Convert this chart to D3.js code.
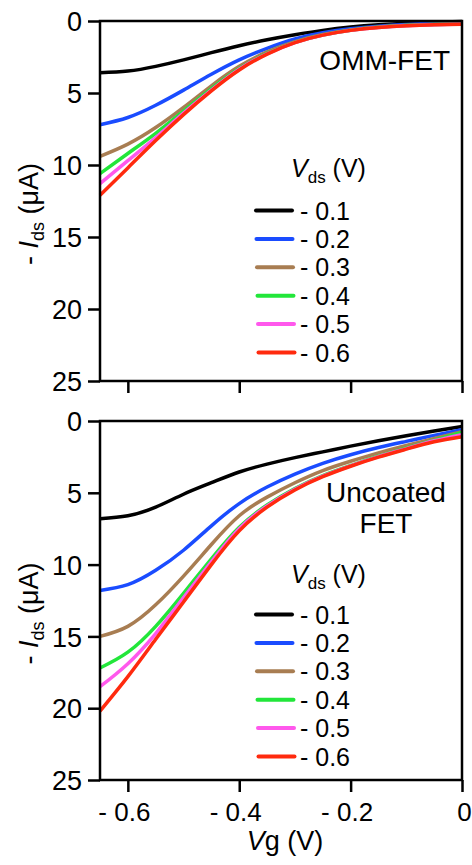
<!DOCTYPE html>
<head>
<meta charset="utf-8">
<style>
body { margin: 0; background: #fff; }
text { font-family: "Liberation Sans", Arial, sans-serif; fill: #000; }
.curve { fill: none; stroke-width: 3.5px; stroke-linejoin: round; }
.frame { fill: none; stroke: #000; stroke-width: 2.5px; }
.tick line { stroke: #000; stroke-width: 2.5px; }
</style>
</head>
<body>
<script src="https://cdn.jsdelivr.net/npm/d3@7"></script>
<script>
// gate voltage (V)
var vg = [-0.65, -0.6, -0.55, -0.5, -0.45, -0.4, -0.35, -0.3, -0.25, -0.2, -0.15, -0.1, -0.05, 0];

// drain voltages and colours
var vdsLabels = ["- 0.1", "- 0.2", "- 0.3", "- 0.4", "- 0.5", "- 0.6"];
var colors = ["#000000", "#1a4cff", "#a87d52", "#22e63a", "#ff58ec", "#ff2a0e"];

// -Ids (uA), OMM-FET
var omm01 = [3.6, 3.48, 3.15, 2.7, 2.2, 1.72, 1.3, 0.95, 0.65, 0.42, 0.26, 0.15, 0.08, 0.04];
var omm02 = [7.2, 6.7, 5.85, 4.8, 3.7, 2.7, 1.9, 1.25, 0.82, 0.54, 0.36, 0.24, 0.16, 0.12];
var omm03 = [9.4, 8.55, 7.4, 6.0, 4.5, 3.15, 2.15, 1.43, 0.94, 0.62, 0.42, 0.3, 0.22, 0.18];
var omm04 = [10.6, 9.2, 7.8, 6.25, 4.7, 3.3, 2.25, 1.48, 0.97, 0.64, 0.44, 0.32, 0.25, 0.2];
var omm05 = [11.3, 9.7, 8.1, 6.4, 4.8, 3.35, 2.28, 1.5, 0.98, 0.65, 0.45, 0.33, 0.26, 0.21];
var omm06 = [12.1, 10.2, 8.3, 6.5, 4.85, 3.4, 2.3, 1.5, 0.98, 0.65, 0.45, 0.33, 0.26, 0.22];

// -Ids (uA), uncoated FET
var unc01 = [6.8, 6.6, 6.0, 5.1, 4.3, 3.55, 3.0, 2.55, 2.15, 1.75, 1.38, 1.03, 0.7, 0.38];
var unc02 = [11.8, 11.4, 10.4, 9.0, 7.3, 5.75, 4.6, 3.7, 2.95, 2.35, 1.85, 1.42, 1.0, 0.6];
var unc03 = [15.0, 14.3, 12.8, 10.8, 8.6, 6.6, 5.3, 4.3, 3.45, 2.8, 2.22, 1.7, 1.22, 0.74];
var unc04 = [17.2, 16.1, 14.3, 12.0, 9.6, 7.4, 5.85, 4.7, 3.8, 3.1, 2.45, 1.88, 1.33, 0.8];
var unc05 = [18.5, 16.9, 14.8, 12.3, 9.8, 7.5, 5.92, 4.75, 3.84, 3.12, 2.48, 1.92, 1.38, 0.95];
var unc06 = [20.2, 17.8, 15.2, 12.6, 10.0, 7.65, 6.0, 4.8, 3.88, 3.15, 2.52, 1.96, 1.45, 1.1];

var yTicks = [0, 5, 10, 15, 20, 25];
var xTicks = [-0.6, -0.4, -0.2, 0];

var svg = d3.select("body").append("svg")
  .attr("width", 472)
  .attr("height", 865);

var x = d3.scaleLinear().domain([-0.65, 0]).range([100, 462]);

var panels = [
  { top: 21, bottom: 381, series: [omm01, omm02, omm03, omm04, omm05, omm06],
    title: ["OMM-FET"], titleX: 450, titleY: 70, anchor: "end", labels: false,
    legTitle: 177, legRow: 210.5 },
  { top: 421, bottom: 780, series: [unc01, unc02, unc03, unc04, unc05, unc06],
    title: ["Uncoated", "FET"], titleX: 386, titleY: 502, anchor: "middle", labels: true,
    legTitle: 583, legRow: 614.5 }
];

panels.forEach(function(p) {
  var y = d3.scaleLinear().domain([0, 25]).range([p.top, p.bottom]);
  var g = svg.append("g");

  var line = d3.line()
    .x(function(d, i) { return x(vg[i]); })
    .y(function(d) { return y(d); })
    .curve(d3.curveNatural);

  g.selectAll(".curve")
    .data(p.series)
    .enter().append("path")
    .attr("class", "curve")
    .attr("stroke", function(d, i) { return colors[i]; })
    .attr("d", line);

  // y axis
  var ya = g.append("g")
    .attr("transform", "translate(100,0)")
    .call(d3.axisLeft(y).tickValues(yTicks).tickSize(12).tickPadding(6));
  ya.select(".domain").remove();
  ya.selectAll("text").style("font-size", "27px").attr("dy", "0.36em");

  // x axis
  var xa = g.append("g")
    .attr("transform", "translate(0," + p.bottom + ")")
    .call(d3.axisBottom(x).tickValues(xTicks).tickSize(12).tickPadding(6)
      .tickFormat(function(d) {
        if (!p.labels) return "";
        return d === 0 ? "0" : "- " + Math.abs(d).toFixed(1);
      }));
  xa.select(".domain").remove();
  xa.selectAll("text").style("font-size", "26px").attr("dy", "0.9em")
    .attr("dx", function(d) { return d === 0 ? 2 : -4; });

  g.append("rect").attr("class", "frame")
    .attr("x", 100).attr("y", p.top)
    .attr("width", 362).attr("height", p.bottom - p.top);

  // panel title
  p.title.forEach(function(t, i) {
    g.append("text")
      .attr("x", p.titleX).attr("y", p.titleY + i * 31)
      .attr("text-anchor", p.anchor)
      .style("font-size", "28px")
      .text(t);
  });

  // legend
  var lt = g.append("text").attr("x", 291).attr("y", p.legTitle).style("font-size", "25px");
  lt.append("tspan").style("font-style", "italic").text("V");
  lt.append("tspan").attr("dy", 6).style("font-size", "17px").text("ds");
  lt.append("tspan").attr("dy", -6).text(" (V)");

  vdsLabels.forEach(function(lab, i) {
    var yy = p.legRow + i * 28.4;
    g.append("line")
      .attr("x1", 256 + i * 0.5).attr("x2", 292 + i * 0.5)
      .attr("y1", yy).attr("y2", yy)
      .attr("stroke", colors[i]).attr("stroke-width", 4)
      .attr("stroke-linecap", "round");
    g.append("text")
      .attr("x", 300).attr("y", yy + 9)
      .style("font-size", "25px")
      .text(lab);
  });

  // y label
  var yl = g.append("text")
    .attr("transform", "translate(38," + ((p.top + p.bottom) / 2 + 13) + ") rotate(-90)")
    .attr("text-anchor", "middle")
    .style("font-size", "27px");
  yl.append("tspan").text("- ");
  yl.append("tspan").style("font-style", "italic").text("I");
  yl.append("tspan").attr("dy", 6).style("font-size", "18px").text("ds");
  yl.append("tspan").attr("dy", -6).text(" (\u03bcA)");
});

// x label
var xl = svg.append("text")
  .attr("x", 285).attr("y", 850)
  .attr("text-anchor", "middle")
  .style("font-size", "27px");
xl.append("tspan").style("font-style", "italic").text("V");
xl.append("tspan").text("g (V)");
</script>
</body>
